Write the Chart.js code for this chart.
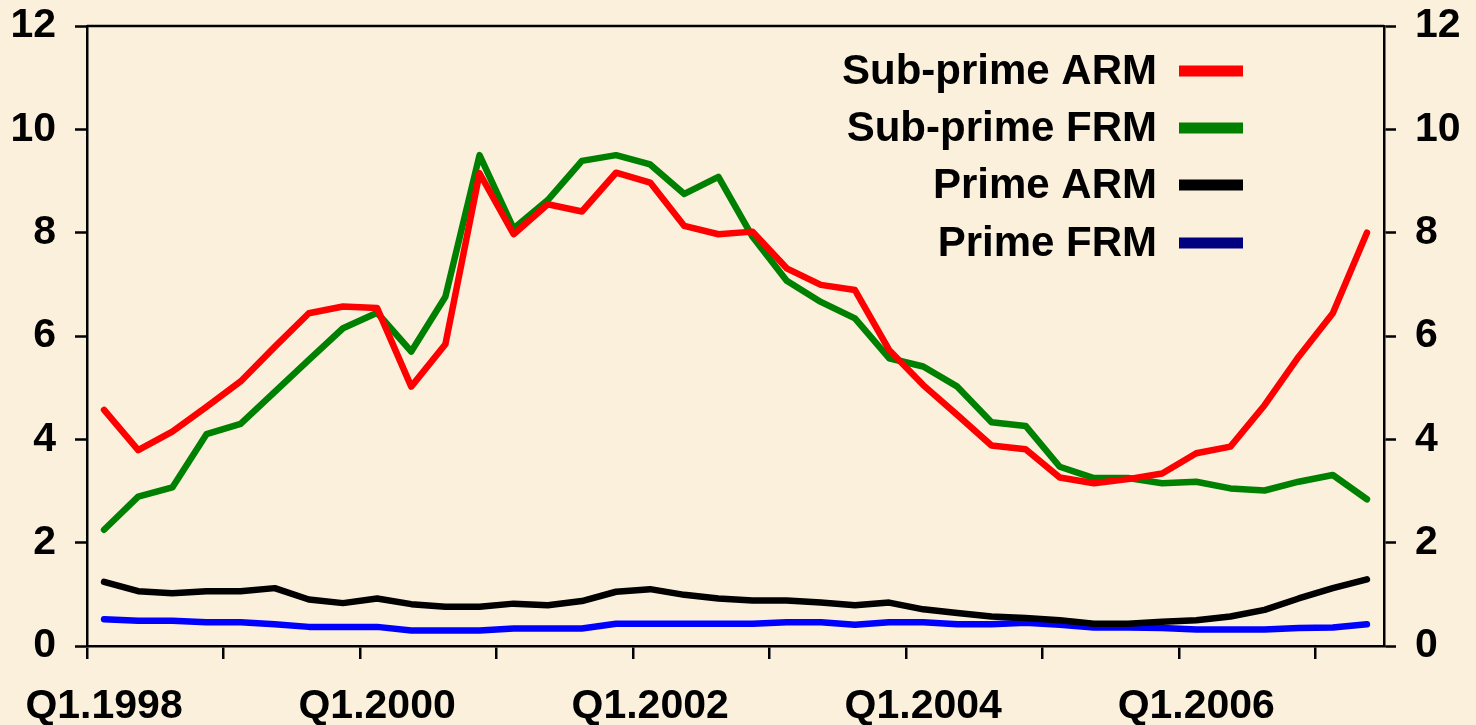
<!DOCTYPE html>
<html>
<head>
<meta charset="utf-8">
<script src="https://cdn.jsdelivr.net/npm/chart.js@4.4.1/dist/chart.umd.min.js"></script>
<style>
  html, body { margin: 0; padding: 0; background: #FBF0DC; }
  #wrap { width: 1476px; height: 725px; }
</style>
</head>
<body>
<div id="wrap"><canvas id="c" width="1476" height="725"></canvas></div>
<script>
// ---- data ----
const quarters = [];
for (let y = 1998; y <= 2007; y++) {
  for (let q = 1; q <= 4; q++) {
    if (y === 2007 && q > 2) break;
    quarters.push('Q' + q + '.' + y);
  }
}
const subprimeARM = [4.57, 3.79, 4.15, 4.63, 5.12, 5.79, 6.44, 6.57, 6.54, 5.02,
  5.84, 9.15, 7.97, 8.55, 8.41, 9.16, 8.97, 8.13, 7.97, 8.02,
  7.31, 6.99, 6.89, 5.73, 5.05, 4.47, 3.88, 3.81, 3.26, 3.15,
  3.23, 3.34, 3.73, 3.86, 4.66, 5.60, 6.44, 8.00];
const subprimeFRM = [2.25, 2.89, 3.07, 4.10, 4.30, 4.92, 5.54, 6.15, 6.45, 5.70,
  6.76, 9.50, 8.08, 8.63, 9.39, 9.50, 9.32, 8.75, 9.08, 7.92,
  7.07, 6.66, 6.34, 5.57, 5.41, 5.02, 4.33, 4.26, 3.47, 3.25,
  3.25, 3.15, 3.18, 3.05, 3.01, 3.18, 3.31, 2.84];
const primeARM = [1.24, 1.06, 1.02, 1.06, 1.06, 1.12, 0.90, 0.83, 0.92, 0.81,
  0.76, 0.76, 0.82, 0.79, 0.87, 1.05, 1.10, 0.99, 0.92, 0.88,
  0.88, 0.84, 0.79, 0.84, 0.71, 0.64, 0.57, 0.54, 0.50, 0.43,
  0.43, 0.47, 0.50, 0.57, 0.70, 0.92, 1.12, 1.29];
const primeFRM = [0.52, 0.49, 0.49, 0.46, 0.46, 0.42, 0.37, 0.37, 0.37, 0.30,
  0.30, 0.30, 0.34, 0.34, 0.34, 0.43, 0.43, 0.43, 0.43, 0.43,
  0.46, 0.46, 0.41, 0.46, 0.46, 0.42, 0.42, 0.45, 0.41, 0.36,
  0.36, 0.35, 0.32, 0.32, 0.32, 0.35, 0.36, 0.42];
const seriesNames = ['Sub-prime ARM', 'Sub-prime FRM', 'Prime ARM', 'Prime FRM'];
const yTicks = [0, 2, 4, 6, 8, 10, 12];

// ---- styles ----
const lineColors = ['#FF0000', '#008000', '#000000', '#0000FF'];
const legendColors = ['#FF0000', '#008000', '#000000', '#000080'];
const FONT = '"Liberation Sans", Arial, sans-serif';

const bgPlugin = {
  id: 'bg',
  beforeDraw(chart) {
    const c = chart.ctx;
    c.save();
    c.fillStyle = '#FBF0DC';
    c.fillRect(0, 0, chart.width, chart.height);
    c.restore();
  }
};

const framePlugin = {
  id: 'frame',
  afterDraw(chart) {
    const c = chart.ctx, a = chart.chartArea;
    c.save();
    c.strokeStyle = '#000';
    c.lineWidth = 2.5;
    c.beginPath();
    c.moveTo(a.left, a.top);
    c.lineTo(a.right, a.top);
    c.stroke();
    // legend
    c.font = 'bold 42px ' + FONT;
    c.textAlign = 'right';
    c.textBaseline = 'middle';
    const rows = [71, 128, 185, 243];
    chart.data.datasets.forEach((ds, i) => {
      c.fillStyle = '#000';
      c.fillText(ds.label, 1157, rows[i] + 1);
      c.fillStyle = legendColors[i];
      c.fillRect(1179, rows[i] - 5.5, 64, 11);
    });
    c.restore();
  }
};

const datasets = [subprimeARM, subprimeFRM, primeARM, primeFRM].map((d, i) => ({
  label: seriesNames[i],
  data: d,
  borderColor: lineColors[i],
  backgroundColor: lineColors[i],
  borderWidth: 6.5,
  pointRadius: 0,
  tension: 0,
  borderCapStyle: 'round',
  borderJoinStyle: 'round',
  yAxisID: 'y',
  fill: false
}));

function fitY(width) {
  return function (s) {
    s.width = width;
    s.paddingTop = 0;
    s.paddingBottom = 0;
  };
}

new Chart(document.getElementById('c'), {
  type: 'line',
  data: { labels: quarters, datasets },
  options: {
    responsive: false,
    animation: false,
    layout: { padding: { top: 26, left: 0, right: 0, bottom: 0 } },
    plugins: { legend: { display: false }, tooltip: { enabled: false }, title: { display: false } },
    scales: {
      x: {
        type: 'category',
        offset: true,
        afterFit(s) { s.height = 79; s.paddingLeft = 0; s.paddingRight = 0; },
        border: { display: true, color: '#000', width: 2.5 },
        grid: {
          offset: true,
          drawOnChartArea: false,
          drawTicks: true,
          tickLength: 13,
          lineWidth: 2.5,
          tickWidth: 2.5,
          color: (ctx) => (ctx.index % 4 === 0 ? '#000' : 'rgba(0,0,0,0)'),
          tickColor: (ctx) => (ctx.index % 4 === 0 ? '#000' : 'rgba(0,0,0,0)')
        },
        ticks: {
          autoSkip: false,
          maxRotation: 0,
          minRotation: 0,
          padding: 23,
          color: '#000',
          font: { family: FONT, size: 41, weight: 'bold' },
          callback: function (v, i) { return i % 8 === 0 ? this.getLabelForValue(v) : ''; }
        }
      },
      y: {
        position: 'left',
        min: 0, max: 12,
        afterFit: fitY(87),
        afterBuildTicks(s) { s.ticks = yTicks.map(v => ({ value: v })); },
        border: { display: true, color: '#000', width: 2.5 },
        grid: { drawOnChartArea: false, drawTicks: true, tickLength: 12, color: '#000', tickColor: '#000', tickWidth: 2.5 },
        ticks: { padding: 19, color: '#000', font: { family: FONT, size: 41, weight: 'bold' } }
      },
      y2: {
        position: 'right',
        min: 0, max: 12,
        afterFit: fitY(92),
        afterBuildTicks(s) { s.ticks = yTicks.map(v => ({ value: v })); },
        border: { display: true, color: '#000', width: 2.5 },
        grid: { drawOnChartArea: false, drawTicks: true, tickLength: 12, color: '#000', tickColor: '#000', tickWidth: 2.5 },
        ticks: { padding: 19, color: '#000', font: { family: FONT, size: 41, weight: 'bold' } }
      }
    }
  },
  plugins: [bgPlugin, framePlugin]
});
</script>
</body>
</html>
